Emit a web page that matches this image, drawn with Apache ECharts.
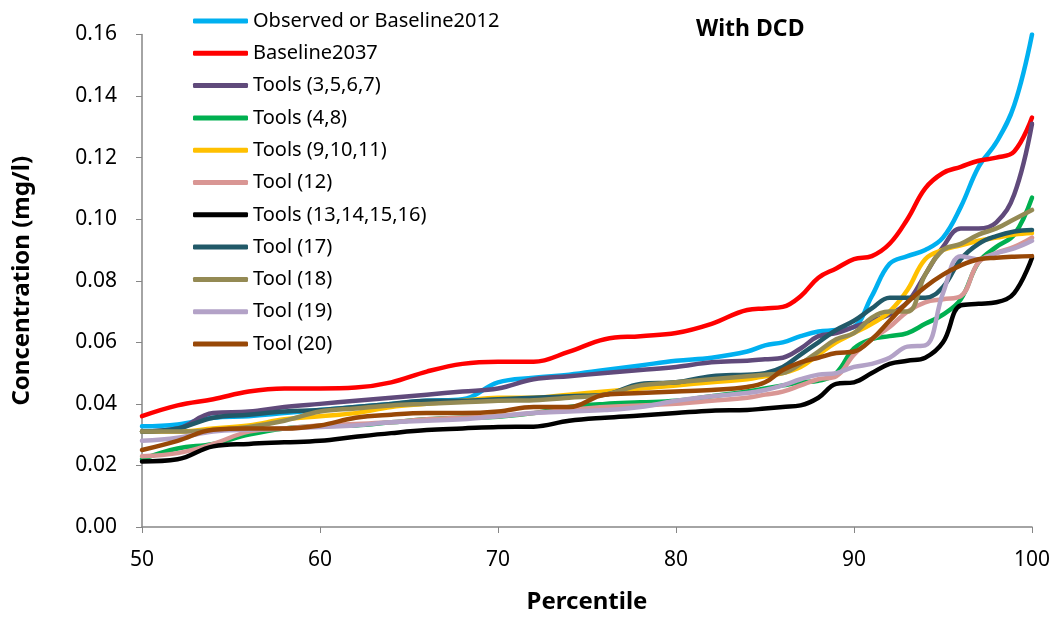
<!DOCTYPE html>
<html>
<head>
<meta charset="utf-8">
<script src="https://cdn.jsdelivr.net/npm/echarts@6/dist/echarts.min.js"></script>
<style>
	html, body { margin: 0; padding: 0; background: #fff; }
	#chart { width: 1058px; height: 619px; }
</style>
</head>
<body>
<div id="chart"></div>
<script>
// percentiles sampled along the x axis
const percentiles = [50, 52, 54, 56, 58, 60, 62, 64, 66, 68, 70, 72, 74, 76, 78, 80, 82, 84, 85, 86, 87, 88, 89, 90, 91, 92, 93, 94, 95, 96, 97, 98, 99, 100];

const observed2012 = [0.0327, 0.0333, 0.0355, 0.036, 0.037, 0.038, 0.039, 0.040, 0.041, 0.0415, 0.047, 0.0485, 0.0495, 0.051, 0.0525, 0.054, 0.055, 0.057, 0.059, 0.060, 0.062, 0.0635, 0.064, 0.065, 0.075, 0.0855, 0.088, 0.090, 0.094, 0.104, 0.117, 0.125, 0.137, 0.160];
const baseline2037 = [0.036, 0.0395, 0.0415, 0.044, 0.045, 0.045, 0.0453, 0.047, 0.0505, 0.053, 0.0537, 0.0537, 0.057, 0.061, 0.062, 0.063, 0.066, 0.0705, 0.071, 0.0715, 0.075, 0.081, 0.084, 0.087, 0.088, 0.092, 0.100, 0.110, 0.115, 0.117, 0.119, 0.120, 0.122, 0.133];
const tools3567 = [0.031, 0.032, 0.037, 0.0375, 0.039, 0.040, 0.041, 0.042, 0.043, 0.044, 0.045, 0.048, 0.049, 0.050, 0.051, 0.052, 0.0535, 0.054, 0.0545, 0.055, 0.058, 0.062, 0.063, 0.065, 0.067, 0.069, 0.073, 0.082, 0.091, 0.097, 0.097, 0.099, 0.108, 0.131];
const tools48 = [0.022, 0.0255, 0.027, 0.030, 0.032, 0.0328, 0.033, 0.034, 0.035, 0.0355, 0.0358, 0.037, 0.039, 0.040, 0.0405, 0.041, 0.0425, 0.044, 0.045, 0.046, 0.047, 0.0475, 0.050, 0.058, 0.061, 0.062, 0.063, 0.066, 0.069, 0.074, 0.086, 0.091, 0.095, 0.107];
const tools91011 = [0.031, 0.031, 0.032, 0.033, 0.035, 0.036, 0.037, 0.039, 0.040, 0.041, 0.042, 0.042, 0.043, 0.044, 0.045, 0.046, 0.047, 0.048, 0.049, 0.050, 0.052, 0.056, 0.060, 0.063, 0.066, 0.070, 0.077, 0.087, 0.090, 0.0915, 0.093, 0.094, 0.095, 0.0955];
const tool12 = [0.023, 0.024, 0.027, 0.031, 0.032, 0.033, 0.0335, 0.034, 0.035, 0.0355, 0.036, 0.037, 0.038, 0.039, 0.0395, 0.040, 0.041, 0.042, 0.043, 0.044, 0.046, 0.048, 0.049, 0.056, 0.061, 0.065, 0.070, 0.073, 0.074, 0.075, 0.086, 0.089, 0.091, 0.094];
const tools13141516 = [0.0213, 0.022, 0.0262, 0.027, 0.0275, 0.028, 0.0293, 0.0305, 0.0315, 0.032, 0.0325, 0.0326, 0.0345, 0.0355, 0.0362, 0.037, 0.0378, 0.038, 0.0385, 0.039, 0.0395, 0.042, 0.0465, 0.047, 0.050, 0.053, 0.054, 0.055, 0.060, 0.072, 0.0725, 0.073, 0.076, 0.0875];
const tool17 = [0.031, 0.032, 0.0355, 0.0365, 0.0375, 0.038, 0.039, 0.040, 0.041, 0.041, 0.0415, 0.042, 0.0425, 0.043, 0.0465, 0.047, 0.049, 0.0495, 0.050, 0.052, 0.056, 0.060, 0.064, 0.067, 0.071, 0.0745, 0.0745, 0.0745, 0.078, 0.087, 0.092, 0.0945, 0.096, 0.0965];
const tool18 = [0.031, 0.031, 0.0315, 0.0325, 0.0345, 0.0375, 0.0385, 0.0395, 0.040, 0.0405, 0.041, 0.0412, 0.042, 0.043, 0.046, 0.047, 0.048, 0.049, 0.0495, 0.050, 0.053, 0.057, 0.061, 0.063, 0.068, 0.070, 0.070, 0.082, 0.090, 0.092, 0.095, 0.097, 0.100, 0.103];
const tool19 = [0.028, 0.029, 0.031, 0.0316, 0.032, 0.0325, 0.033, 0.034, 0.0345, 0.035, 0.036, 0.037, 0.0375, 0.038, 0.039, 0.041, 0.0425, 0.0435, 0.0445, 0.046, 0.048, 0.0495, 0.050, 0.052, 0.053, 0.055, 0.0586, 0.059, 0.076, 0.088, 0.087, 0.089, 0.0905, 0.093];
const tool20 = [0.025, 0.028, 0.0316, 0.032, 0.032, 0.033, 0.0355, 0.0365, 0.037, 0.037, 0.0375, 0.039, 0.039, 0.043, 0.0435, 0.044, 0.0445, 0.0455, 0.047, 0.051, 0.0535, 0.055, 0.0565, 0.057, 0.061, 0.067, 0.073, 0.078, 0.082, 0.085, 0.087, 0.0875, 0.0878, 0.088];

const seriesNames = ['Observed or Baseline2012', 'Baseline2037', 'Tools (3,5,6,7)', 'Tools (4,8)', 'Tools (9,10,11)', 'Tool (12)', 'Tools (13,14,15,16)', 'Tool (17)', 'Tool (18)', 'Tool (19)', 'Tool (20)'];
const seriesValues = [observed2012, baseline2037, tools3567, tools48, tools91011, tool12, tools13141516, tool17, tool18, tool19, tool20];
const seriesColors = ['#00B0F0', '#FF0000', '#604A7B', '#00B050', '#FFC000', '#D99694', '#000000', '#215968', '#948A54', '#B3A2C7', '#984807'];

const yTicks = [0, 0.02, 0.04, 0.06, 0.08, 0.10, 0.12, 0.14, 0.16];
const xTicks = [50, 60, 70, 80, 90, 100];

const font = 'Noto Sans';

lineInit = () => {
	let chart = echarts.init(document.getElementById('chart'));

	let option = {
		animation: false,
		backgroundColor: '#fff',
		title: {
			text: 'With DCD',
			left: 696,
			top: 18,
			padding: 0,
			textStyle: { fontFamily: font, fontSize: 23, fontWeight: 'bold', color: '#000' }
		},
		legend: {
			orient: 'vertical',
			left: 193,
			top: 10,
			padding: 0,
			itemWidth: 55,
			itemHeight: 5,
			itemGap: 10.3,
			icon: 'roundRect',
			textStyle: { fontFamily: font, fontSize: 20, color: '#000', lineHeight: 22 },
			data: seriesNames
		},
		grid: {
			left: 142,
			right: 26,
			top: 34.5,
			bottom: 91.5
		},
		xAxis: {
			type: 'value',
			min: xTicks[0],
			max: xTicks[xTicks.length - 1],
			interval: 10,
			name: 'Percentile',
			nameLocation: 'middle',
			nameGap: 63,
			nameTextStyle: { fontFamily: font, fontSize: 24, fontWeight: 'bold', color: '#000' },
			axisLine: { lineStyle: { color: '#868686', width: 1.5 } },
			axisTick: { show: true, length: 6, lineStyle: { color: '#868686' } },
			axisLabel: { margin: 23, fontFamily: font, fontSize: 21, color: '#000' },
			splitLine: { show: false }
		},
		yAxis: {
			type: 'value',
			min: yTicks[0],
			max: yTicks[yTicks.length - 1],
			interval: 0.02,
			name: 'Concentration (mg/l)',
			nameLocation: 'middle',
			nameGap: 108,
			nameTextStyle: { fontFamily: font, fontSize: 24, fontWeight: 'bold', color: '#000' },
			axisLine: { show: true, lineStyle: { color: '#868686', width: 1.5 } },
			axisTick: { show: true, length: 6, lineStyle: { color: '#868686' } },
			axisLabel: {
				margin: 25,
				fontFamily: font,
				fontSize: 21,
				color: '#000',
				formatter: v => v.toFixed(2)
			},
			splitLine: { show: false }
		},
		series: seriesNames.map((name, i) => ({
			name: name,
			type: 'line',
			smooth: 0.4,
			symbol: 'none',
			data: percentiles.map((p, j) => [p, seriesValues[i][j]]),
			lineStyle: { color: seriesColors[i], width: 4.5, cap: 'round', join: 'round' },
			itemStyle: { color: seriesColors[i] }
		}))
	};
	chart.setOption(option);
}

lineInit();
</script>
</body>
</html>
